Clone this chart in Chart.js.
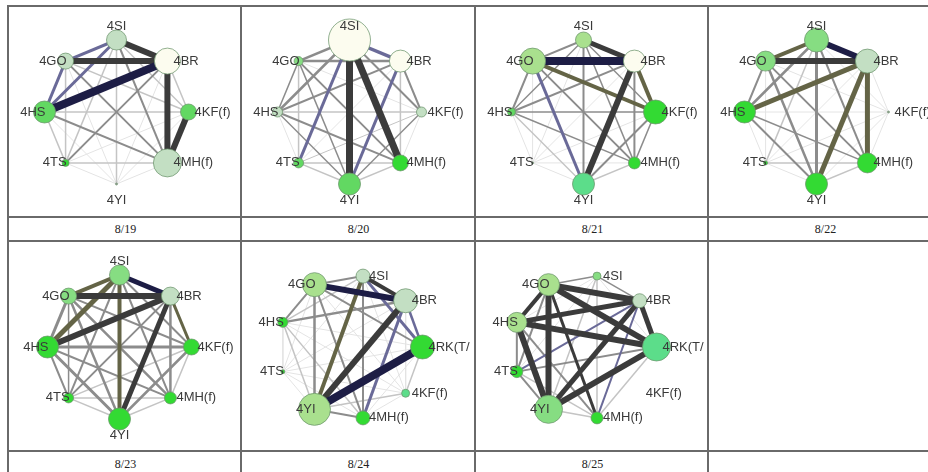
<!DOCTYPE html>
<html>
<head>
<meta charset="utf-8">
<script src="https://cdn.jsdelivr.net/npm/chart.js@4/dist/chart.umd.min.js"></script>
<style>
  html, body { margin:0; padding:0; background:#fff; }
  #wrap { position:relative; width:928px; height:472px; overflow:hidden; background:#fff; }
  .hl { position:absolute; height:2px; background:#6a6a6a; }
  .vl { position:absolute; width:2px; background:#6a6a6a; }
  .cv { position:absolute; }
  .dl { position:absolute; width:233px; text-align:center; font-family:"Liberation Serif","DejaVu Serif",serif; font-size:12px; color:#222; line-height:14px; }
</style>
</head>
<body>
<div id="wrap"></div>
<script>
// ---------- data ----------
const dates = ['8/19','8/20','8/21','8/22','8/23','8/24','8/25'];
const nodes8 = ['4SI','4BR','4KF(f)','4MH(f)','4YI','4TS','4HS','4GO'];
const nodes9 = ['4RK(T/','4BR','4SI','4GO','4HS','4TS','4YI','4MH(f)','4KF(f)'];

// node activity (drawn as circle size), in the order of the node list of that day
const size0819 = [10, 13, 8, 14, 1, 3.5, 11, 8];
const size0820 = [21, 11, 5, 8, 11, 5, 5, 4.5];
const size0821 = [8, 11, 12, 6, 11, 1, 4, 13];
const size0822 = [12, 12, 1, 10, 11, 2, 11, 10];
const size0823 = [10, 9, 8, 6, 11, 5, 11, 8];
const size0824 = [12, 12, 7, 12, 5, 2, 16, 7, 4];
const size0825 = [14, 7, 4, 11, 10, 6, 14, 6, 0];

// node shade level (-1 grey dot, 0 cream ... 5 bright green, 6 teal green)
const shade0819 = [1, 0, 4, 1, -1, 5, 4, 1];
const shade0820 = [0, 0, 1, 5, 4, 4, 1, 3];
const shade0821 = [2, 0, 5, 5, 6, -1, 4, 2];
const shade0822 = [3, 1, -1, 5, 5, 5, 5, 3];
const shade0823 = [3, 1, 5, 5, 5, 5, 5, 3];
const shade0824 = [5, 1, 1, 2, 5, 5, 2, 5, 6];
const shade0825 = [6, 1, 3, 2, 2, 5, 3, 5, 0];

// links: [from, to, weight, kind]
const links0819 = [
  ['4SI','4BR',6,'dark'], ['4GO','4BR',6,'dark'], ['4HS','4BR',8,'navy'],
  ['4BR','4MH(f)',6,'dark'], ['4KF(f)','4MH(f)',6,'dark'],
  ['4GO','4HS',3,'slate'], ['4SI','4HS',3,'slate'], ['4SI','4GO',3,'slate'],
  ['4GO','4MH(f)',2,'gray'], ['4SI','4MH(f)',2,'gray'], ['4HS','4MH(f)',2,'gray'], ['4TS','4BR',2,'gray'],
  ['4TS','4SI',1.5,'light'], ['4HS','4KF(f)',1.5,'light'], ['4GO','4TS',1.5,'light'], ['4HS','4TS',1.5,'light'],
  ['4TS','4MH(f)',1.5,'light'], ['4BR','4KF(f)',1.5,'light'], ['4SI','4KF(f)',1.5,'light'],
  ['4GO','4KF(f)',1.5,'light'], ['4SI','4YI',1.5,'light']
];
const links0820 = [
  ['4SI','4YI',7,'dark'], ['4SI','4MH(f)',7,'dark'],
  ['4SI','4TS',3,'slate'], ['4BR','4YI',3,'slate'], ['4SI','4BR',3.5,'slate'],
  ['4SI','4GO',2.5,'gray'], ['4GO','4BR',2.5,'gray'], ['4SI','4HS',2.5,'gray'], ['4HS','4BR',2,'gray'],
  ['4GO','4MH(f)',2,'gray'], ['4GO','4YI',1.5,'gray'], ['4HS','4MH(f)',2,'gray'], ['4GO','4HS',1.5,'gray'],
  ['4SI','4KF(f)',2,'gray'], ['4BR','4KF(f)',2,'gray'], ['4HS','4YI',1.5,'gray'], ['4KF(f)','4YI',1.5,'gray'],
  ['4TS','4MH(f)',1.5,'light'], ['4GO','4TS',1.5,'light'], ['4TS','4KF(f)',1,'light'], ['4YI','4MH(f)',1.5,'light'],
  ['4TS','4YI',1.5,'light'], ['4HS','4KF(f)',1.5,'light'], ['4MH(f)','4BR',1.5,'light']
];
const links0821 = [
  ['4GO','4BR',8,'navy'], ['4SI','4BR',5,'dark'], ['4GO','4KF(f)',4,'olive'], ['4BR','4KF(f)',4,'olive'],
  ['4BR','4YI',6,'dark'], ['4GO','4YI',3,'slate'],
  ['4SI','4YI',2,'gray'], ['4SI','4GO',2,'gray'], ['4HS','4BR',2,'gray'], ['4GO','4HS',2,'gray'],
  ['4HS','4KF(f)',1.5,'gray'], ['4GO','4MH(f)',2,'gray'], ['4SI','4MH(f)',1.5,'gray'], ['4BR','4MH(f)',2,'gray'],
  ['4HS','4MH(f)',1.5,'gray'], ['4KF(f)','4YI',2,'gray'], ['4SI','4HS',1.5,'gray'],
  ['4HS','4YI',1.5,'light'], ['4MH(f)','4YI',1.5,'light'], ['4KF(f)','4MH(f)',1.5,'gray'], ['4SI','4KF(f)',1.5,'gray']
];
const links0822 = [
  ['4SI','4BR',6,'navy'], ['4GO','4BR',6,'dark'], ['4SI','4GO',4,'olive'], ['4HS','4BR',5,'olive'],
  ['4BR','4YI',5,'olive'], ['4BR','4MH(f)',5,'olive'],
  ['4SI','4YI',3,'gray'], ['4SI','4HS',2.5,'gray'], ['4GO','4HS',2,'gray'], ['4SI','4MH(f)',2,'gray'],
  ['4GO','4YI',2.5,'gray'], ['4GO','4MH(f)',2,'gray'], ['4HS','4MH(f)',1.5,'gray'], ['4HS','4YI',2,'gray'],
  ['4SI','4TS',1.5,'light'], ['4YI','4MH(f)',1.5,'light'], ['4TS','4MH(f)',1.5,'light']
];
const links0823 = [
  ['4SI','4BR',5,'navy'], ['4GO','4BR',6,'dark'], ['4HS','4BR',6,'dark'], ['4BR','4YI',5,'dark'],
  ['4SI','4HS',5,'olive'], ['4SI','4GO',4,'olive'], ['4SI','4YI',4,'olive'], ['4BR','4KF(f)',3,'olive'],
  ['4HS','4KF(f)',3,'gray'], ['4GO','4HS',3,'gray'], ['4HS','4YI',3,'gray'], ['4GO','4MH(f)',2.5,'gray'],
  ['4SI','4MH(f)',2,'gray'], ['4BR','4MH(f)',2.5,'gray'], ['4HS','4TS',2,'gray'], ['4GO','4YI',2.5,'gray'],
  ['4KF(f)','4YI',2.5,'gray'], ['4TS','4BR',2,'gray'], ['4GO','4KF(f)',2,'gray'], ['4SI','4KF(f)',2,'gray'],
  ['4TS','4SI',2,'gray'], ['4HS','4MH(f)',2,'gray'], ['4GO','4TS',1.5,'gray'],
  ['4TS','4YI',1.5,'light'], ['4MH(f)','4YI',1.5,'light'], ['4TS','4MH(f)',1.5,'light'],
  ['4KF(f)','4MH(f)',1.5,'light'], ['4TS','4KF(f)',1.5,'light']
];
const links0824 = [
  ['4YI','4RK(T/',8,'navy'], ['4GO','4BR',6,'navy'], ['4BR','4YI',6,'dark'], ['4SI','4YI',4,'olive'],
  ['4SI','4BR',4,'dark'], ['4SI','4RK(T/',3,'slate'], ['4BR','4MH(f)',3,'slate'], ['4BR','4RK(T/',2.5,'slate'],
  ['4GO','4SI',2,'gray'], ['4HS','4BR',2.5,'gray'], ['4GO','4HS',2,'gray'], ['4GO','4YI',2.5,'gray'],
  ['4GO','4MH(f)',2,'gray'], ['4GO','4RK(T/',2,'gray'], ['4YI','4MH(f)',2,'gray'], ['4SI','4MH(f)',2,'gray'],
  ['4HS','4MH(f)',1.5,'light'], ['4HS','4YI',1.5,'light'], ['4SI','4HS',1.5,'light'],
  ['4RK(T/','4KF(f)',1.5,'light'], ['4KF(f)','4YI',1.5,'light']
];
const links0825 = [
  ['4GO','4BR',6,'dark'], ['4GO','4RK(T/',6,'dark'], ['4HS','4RK(T/',6,'dark'], ['4HS','4BR',5,'dark'],
  ['4GO','4YI',6,'dark'], ['4HS','4YI',6,'dark'], ['4YI','4RK(T/',6,'dark'], ['4YI','4BR',5,'dark'],
  ['4BR','4RK(T/',5,'dark'], ['4GO','4MH(f)',3,'dark'], ['4GO','4HS',4,'dark'],
  ['4TS','4BR',2,'slate'], ['4BR','4MH(f)',2,'slate'],
  ['4RK(T/','4TS',2,'gray'], ['4SI','4GO',1.5,'gray'], ['4SI','4BR',1.5,'gray'], ['4TS','4GO',2,'gray'],
  ['4TS','4YI',2,'gray'], ['4HS','4TS',2,'gray'], ['4HS','4MH(f)',2,'gray'],
  ['4SI','4YI',1.5,'light'], ['4SI','4MH(f)',1.5,'light'], ['4MH(f)','4YI',1.5,'light'],
  ['4RK(T/','4MH(f)',1.5,'light'], ['4TS','4MH(f)',1.5,'light']
];

// ---------- styles / layout ----------
const panels = [
  {date:dates[0], nodes:nodes8, size:size0819, shade:shade0819, links:links0819},
  {date:dates[1], nodes:nodes8, size:size0820, shade:shade0820, links:links0820},
  {date:dates[2], nodes:nodes8, size:size0821, shade:shade0821, links:links0821},
  {date:dates[3], nodes:nodes8, size:size0822, shade:shade0822, links:links0822},
  {date:dates[4], nodes:nodes8, size:size0823, shade:shade0823, links:links0823},
  {date:dates[5], nodes:nodes9, size:size0824, shade:shade0824, links:links0824},
  {date:dates[6], nodes:nodes9, size:size0825, shade:shade0825, links:links0825}
];
const shadeColor = {'-1':'#9a9a9a', 0:'#fcfcef', 1:'#c3dfc3', 2:'#a9e08e', 3:'#86dd82', 4:'#62d862', 5:'#33da33', 6:'#5cdd8a'};
const kindColor = {navy:'#1d1d45', dark:'#3b3b3b', olive:'#646446', slate:'#6a6a98', gray:'#8c8c8c', light:'#c4c4c4', faint:'#e4e4e4'};

const wrap = document.getElementById('wrap');
const colX = [8, 241, 475, 708];
const rowY = [6, 241];
const CW = 233, CH = 210, UNIT = 72;
const shiftX = [-9, -9, -9, -9, -6, -8, -8];

function line(cls, x, y, len) {
  const d = document.createElement('div');
  d.className = cls;
  d.style.left = (x - 1) + 'px'; d.style.top = (y - 1) + 'px';
  if (cls === 'hl') d.style.width = len + 'px'; else d.style.height = len + 'px';
  wrap.appendChild(d);
}
// table rules
[6, 217, 241, 451, 475].forEach(y => line('hl', 8, y, 940));
colX.forEach(x => line('vl', x, 6, 480));

const labelPlugin = {
  id: 'nodeLabels',
  afterDatasetsDraw(chart) {
    const info = chart.config.options.plugins.nodeLabels;
    const ctx = chart.ctx, xs = chart.scales.x, ys = chart.scales.y;
    ctx.save();
    ctx.font = '13px "Liberation Sans", Arial, sans-serif';
    ctx.fillStyle = '#3a3a3a';
    ctx.textBaseline = 'middle';
    info.pts.forEach((p, i) => {
      const px = xs.getPixelForValue(p.x), py = ys.getPixelForValue(p.y);
      const c = p.x;
      if (c > 0.1) { ctx.textAlign = 'left'; ctx.fillText(info.names[i], px + 6, py); }
      else if (c < -0.1) { ctx.textAlign = 'right'; ctx.fillText(info.names[i], px + 1, py); }
      else if (p.y > 0) { ctx.textAlign = 'center'; ctx.fillText(info.names[i], px, py - 14); }
      else { ctx.textAlign = 'center'; ctx.fillText(info.names[i], px, py + 16); }
    });
    ctx.restore();
  }
};

panels.forEach((pn, k) => {
  const col = k % 4, row = Math.floor(k / 4);
  const left = colX[col] + 1, top = rowY[row] + 1;
  const cv = document.createElement('canvas');
  cv.className = 'cv';
  cv.width = CW; cv.height = CH;
  cv.style.left = left + 'px'; cv.style.top = top + 'px';
  cv.style.width = CW + 'px'; cv.style.height = CH + 'px';
  wrap.appendChild(cv);

  const dl = document.createElement('div');
  dl.className = 'dl';
  dl.textContent = pn.date;
  dl.style.left = left + 'px';
  dl.style.top = (rowY[row] + 216) + 'px';
  wrap.appendChild(dl);

  const n = pn.nodes.length;
  const start = n === 8 ? Math.PI / 2 : 0;
  const step = n === 8 ? -2 * Math.PI / 8 : 2 * Math.PI / 9;
  const pts = pn.nodes.map((nm, i) => ({x: Math.cos(start + step * i), y: Math.sin(start + step * i)}));
  const idx = nm => pn.nodes.indexOf(nm);

  // faint background links for every pair not listed
  const listed = new Set(pn.links.map(l => [idx(l[0]), idx(l[1])].sort().join('-')));
  const allLinks = [];
  for (let a = 0; a < n; a++) for (let b = a + 1; b < n; b++) {
    if (pn.size[a] === 0 || pn.size[b] === 0) continue;
    if (!listed.has([a, b].sort().join('-'))) allLinks.push([a, b, 1, 'faint']);
  }
  pn.links.forEach(l => allLinks.push([idx(l[0]), idx(l[1]), l[2], l[3]]));
  allLinks.sort((p, q) => q[2] - p[2]);

  const datasets = [{
    type: 'scatter',
    data: pts,
    pointRadius: pn.size.map(s => s),
    pointHoverRadius: pn.size.map(s => s),
    backgroundColor: pn.shade.map(s => shadeColor[s]),
    borderColor: 'rgba(110,150,110,0.75)',
    borderWidth: 1,
    clip: false,
    order: 0
  }];
  allLinks.forEach((l, j) => datasets.push({
    type: 'line',
    data: [pts[l[0]], pts[l[1]]],
    borderColor: kindColor[l[3]],
    borderWidth: l[2],
    pointRadius: 0,
    showLine: true,
    fill: false,
    clip: false,
    order: 1 + j
  }));

  const cx = CW / 2 + shiftX[k], cy = CH / 2;
  const xmin = -cx / UNIT, xmax = (CW - cx) / UNIT;
  const ymin = -(CH - cy) / UNIT, ymax = cy / UNIT;
  new Chart(cv, {
    type: 'scatter',
    data: {datasets},
    options: {
      responsive: false,
      animation: false,
      events: [],
      layout: {padding: 0, autoPadding: false},
      plugins: {legend: {display: false}, tooltip: {enabled: false}, nodeLabels: {pts, names: pn.nodes}},
      scales: {
        x: {type: 'linear', display: false, bounds: 'data', min: xmin, max: xmax,
            afterDataLimits: s => { s.min = xmin; s.max = xmax; }},
        y: {type: 'linear', display: false, bounds: 'data', min: ymin, max: ymax,
            afterDataLimits: s => { s.min = ymin; s.max = ymax; }}
      }
    },
    plugins: [labelPlugin]
  });
});
</script>
</body>
</html>
